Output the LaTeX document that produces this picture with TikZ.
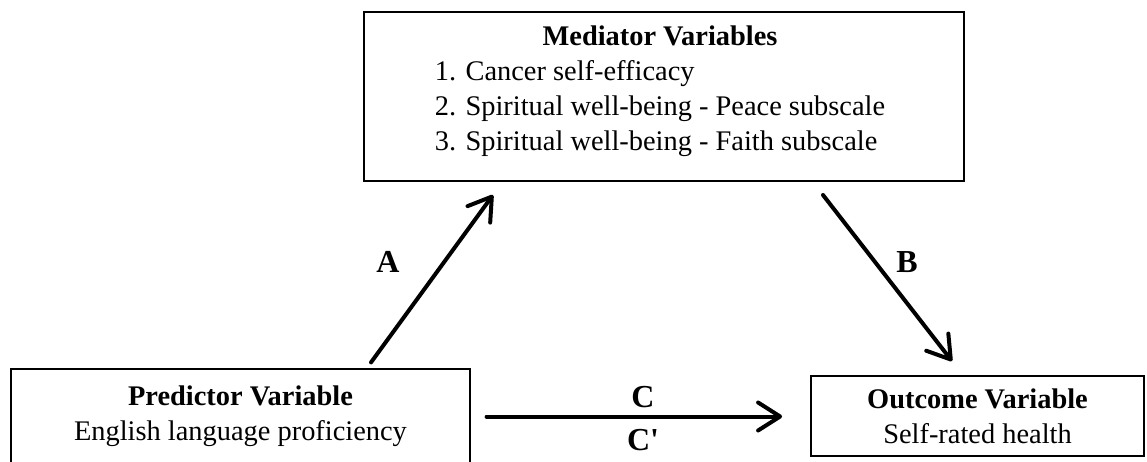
\documentclass[tikz,border=0pt]{standalone}
\usepackage{fontspec}
\setmainfont{Liberation Serif}
\usetikzlibrary{arrows.meta}

\begin{document}
\begin{tikzpicture}[x=0.5pt,y=-0.5pt,
  every node/.style={font=\fontsize{14.2}{17.5}\selectfont},
  box/.style={draw,line width=0.9pt,align=center,inner sep=0pt},
  arr/.style={draw,line width=2pt,line cap=round,
    -{Straight Barb[length=11pt,width=14pt,round]}},
  lab/.style={font=\fontsize{16}{19}\selectfont\bfseries}]
\useasboundingbox (0,0) rectangle (1147,461);
\node[box,line width=0.6pt,minimum width=229.5pt,minimum height=47.5pt] (pred) at (240.5,416.5) {\textbf{Predictor Variable}\\English language proficiency};
\node[box,line width=1pt,minimum width=300pt,minimum height=84.5pt] (med) at (664,96.5) {};
\node (medtxt) at (660,91) {\begin{tabular}{@{}l@{}}
  \multicolumn{1}{@{}c@{}}{\textbf{Mediator Variables}}\\
  1. Cancer self-efficacy\\
  2. Spiritual well-being - Peace subscale\\
  3. Spiritual well-being - Faith subscale
\end{tabular}};
\node[box,minimum width=166.5pt,minimum height=40pt] (out) at (977.5,416) {\textbf{Outcome Variable}\\Self-rated health};

\path[arr] ([xshift=65.25pt,yshift=3pt]pred.north) -- ([xshift=-85.5pt,yshift=-6.5pt]med.south);
\path[arr] ([xshift=79.5pt,yshift=-6.5pt]med.south) -- ([xshift=-12.75pt,yshift=7pt]out.north);
\path[arr,shorten <=8pt,shorten >=14pt] (pred.east) -- (pred.east -| out.west);

\node[lab] (a) at (388,262) {A};
\node[lab] (b) at (907,262) {B};
\node[lab] (c) at (643,397) {C};
\node[lab] (cc) at (643,440) {C\textquotesingle};
\end{tikzpicture}
\end{document}
